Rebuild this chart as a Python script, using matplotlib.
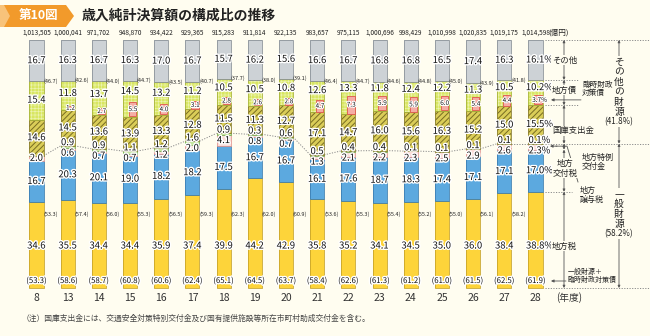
import numpy as np
import matplotlib as mpl
import matplotlib.pyplot as plt
from matplotlib import patheffects as pe
from matplotlib.patches import Polygon, Rectangle

plt.rcParams['font.family'] = ['Noto Sans CJK JP', 'DejaVu Sans']
plt.rcParams['hatch.linewidth'] = 0.7

# fiscal years (Heisei) and totals (100 million yen)
years = ['8', '13', '14', '15', '16', '17', '18', '19', '20', '21', '22',
         '23', '24', '25', '26', '27', '28']
totals = ['1,013,505', '1,000,041', '971,702', '948,870', '934,422', '929,365',
          '915,283', '911,814', '922,135', '983,657', '975,115', '1,000,696',
          '998,429', '1,010,998', '1,020,835', '1,019,175', '1,014,598']

# shares in %, bottom to top
local_tax = [34.6, 35.5, 34.4, 34.4, 35.9, 37.4, 39.9, 44.2, 42.9, 35.8, 35.2,
             34.1, 34.5, 35.0, 36.0, 38.4, 38.8]
alloc_tax = [16.7, 20.3, 20.1, 19.0, 18.2, 18.2, 17.5, 16.7, 16.7, 16.1, 17.6,
             18.7, 18.3, 17.4, 17.1, 17.1, 17.0]
transfer_tax = [2.0, 0.6, 0.7, 0.7, 1.2, 2.0, 4.1, 0.8, 0.7, 1.3, 2.1,
                2.2, 2.3, 2.5, 2.9, 2.6, 2.3]
special_grant = [0.0, 0.9, 0.9, 1.1, 1.2, 1.6, 0.9, 0.3, 0.6, 0.5, 0.4,
                 0.4, 0.1, 0.1, 0.1, 0.1, 0.1]
treasury = [14.6, 14.5, 13.6, 13.9, 13.3, 12.8, 11.5, 11.3, 12.7, 17.1, 14.7,
            16.0, 15.6, 16.3, 15.2, 15.0, 15.5]
local_bonds = [15.4, 11.8, 13.7, 14.5, 13.2, 11.2, 10.5, 10.5, 10.8, 12.6, 13.3,
               11.8, 12.4, 12.2, 11.3, 10.5, 10.2]
rinzai = [0.0, 1.2, 2.7, 5.5, 4.0, 3.1, 2.8, 2.6, 2.8, 4.7, 7.3,
          5.9, 5.9, 6.0, 5.4, 4.4, 3.7]
other = [16.7, 16.3, 16.7, 16.3, 17.0, 16.7, 15.7, 16.2, 15.6, 16.6, 16.7,
         16.8, 16.8, 16.5, 17.4, 16.3, 16.1]

# bracketed shares printed between bars (H8..H27)
other_share = [46.7, 42.6, 44.0, 44.7, 43.5, 40.7, 37.7, 38.0, 39.1, 46.4,
               44.7, 44.6, 44.8, 45.0, 43.9, 41.8]
general_share = [53.3, 57.4, 56.0, 55.3, 56.5, 59.3, 62.3, 62.0, 60.9, 53.6,
                 55.3, 55.4, 55.2, 55.0, 56.1, 58.2]
general_plus = [53.3, 58.6, 58.7, 60.8, 60.6, 62.4, 65.1, 64.5, 63.7, 58.4,
                62.6, 61.3, 61.2, 61.0, 61.5, 62.5, 61.9]

BG = '#FFFDF0'
INK = '#222222'
LINE = '#555555'
STEP = 31.1875   # pixels between bar centres
PX_PER = 2.48    # pixels per percent


def X(px):
    return (px - 36.5) / STEP


def Y(py):
    return (288 - py) / PX_PER


fig = plt.figure(figsize=(6.5, 3.36), dpi=100, facecolor=BG)
ax = fig.add_axes([0, 0, 1, 1])
ax.set_xlim(X(0), X(650))
ax.set_ylim(Y(336), Y(0))
ax.set_axis_off()
ax.set_facecolor(BG)

n = len(years)
x = np.arange(n)
w = 0.45

# values, face, edge, hatch, hatch colour, hatch width
layers = [
    (local_tax, '#FDD43A', '#C9A52A', None, None, 0),
    (alloc_tax, '#5CA9DF', '#3C7FB3', None, None, 0),
    (transfer_tax, '#FBDDD9', '#E39A94', None, None, 0),
    (special_grant, '#C5E6A2', '#76B459', None, None, 0),
    (treasury, '#DACD58', '#8C8032', '//////', '#776C22', 0.7),
    (local_bonds, '#D8E662', '#A8B43A', '+++++', '#EDF3B0', 0.45),
    (other, '#CDD2D6', '#8C939A', None, None, 0),
]
bottoms = []
bottom = np.zeros(n)
for vals, fc, ec, hatch, hc, hlw in layers:
    vals = np.array(vals)
    ax.bar(x, vals, w, bottom=bottom, color=fc, edgecolor='none', zorder=2)
    if hatch:
        with mpl.rc_context({'hatch.linewidth': hlw}):
            ax.bar(x, vals, w, bottom=bottom, color='none', edgecolor=hc,
                   hatch=hatch, lw=0, zorder=3)
    ax.bar(x, vals, w, bottom=bottom, color='none', edgecolor=ec, lw=0.6, zorder=4)
    bottoms.append(bottom.copy())
    bottom = bottom + vals
bottoms.append(bottom.copy())

# 臨時財政対策債 boxes inside the 地方債 segment
for i in range(n):
    if rinzai[i] > 0:
        ax.add_patch(Rectangle((i - w / 2 + 0.42 * w, bottoms[5][i] + 0.3),
                               0.52 * w, rinzai[i], facecolor='#F5ADA5',
                               edgecolor='#E0554E', lw=0.6, zorder=5))

# dotted line at the top of 一般財源
gen_top = bottoms[4]
for i in range(n - 1):
    ax.plot([i + w / 2, i + 1 - w / 2], [gen_top[i], gen_top[i + 1]],
            ls=(0, (1.2, 1.5)), color='#8A8A8A', lw=0.7, zorder=1)

halo = [pe.withStroke(linewidth=2, foreground='white')]


def lab(i, yy, v, size=6.8, dx=0.0):
    s = f'{v:.1f}'
    if i == n - 1:
        s += '%'
        dx += 0.13
    ax.text(i + dx, yy, s, ha='center', va='center', fontsize=size, color='#111',
            path_effects=halo, zorder=7)


for i in range(n):
    lab(i, Y(246), local_tax[i])
    lab(i, bottoms[1][i] + alloc_tax[i] / 2, alloc_tax[i])
    if special_grant[i] > 0:
        lab(i, gen_top[i] + 1.3, special_grant[i])
        ty = min(bottoms[2][i] + transfer_tax[i] / 2, gen_top[i] - 2.9)
    else:
        ty = bottoms[2][i] + transfer_tax[i] / 2
    lab(i, ty, transfer_tax[i])
    lab(i, bottoms[4][i] + treasury[i] / 2, treasury[i])
    box_top = bottoms[5][i] + 0.3 + rinzai[i]
    lab(i, (bottoms[6][i] + box_top) / 2, local_bonds[i])
    if rinzai[i] > 0:
        s = f'{rinzai[i]:.1f}' + ('%' if i == n - 1 else '')
        ax.text(i + 0.2 * w + (0.04 if i == n - 1 else 0), bottoms[5][i] + 0.3 + rinzai[i] / 2, s,
                ha='center', va='center', fontsize=4.6, color='#111',
                path_effects=[pe.withStroke(linewidth=1.5, foreground='white')],
                zorder=7)
    lab(i, bottoms[6][i] + other[i] / 2, other[i])
    ax.text(i, Y(281), f'({general_plus[i]:.1f})', ha='center', va='center',
            fontsize=5.6, color='#111', path_effects=halo, zorder=7)
    ax.text(i, Y(33), totals[i], ha='center', va='center', fontsize=4.7,
            color=INK, zorder=7)
    ax.text(i, Y(298), years[i], ha='center', va='center', fontsize=7.5,
            color='#333')

for i in range(n - 1):
    ax.text(i + 0.45, bottoms[6][i], f'({other_share[i]:.1f})', ha='center',
            va='center', fontsize=4.0, color=INK, zorder=7)
    ax.text(i + 0.45, Y(214), f'({general_share[i]:.1f})', ha='center',
            va='center', fontsize=4.0, color=INK, zorder=7)

ax.text(X(548), Y(33), '(億円)', ha='left', va='center', fontsize=5.5, color=INK)
ax.text(X(556), Y(298), '(年度)', ha='left', va='center', fontsize=7, color='#333')

# title
badge = Polygon([(X(0), Y(5)), (X(66), Y(5)), (X(74), Y(16)), (X(66), Y(27)),
                 (X(0), Y(27))], closed=True, facecolor='#F29A2B',
                edgecolor='none')
ax.add_patch(badge)
ax.add_patch(Polygon([(X(0), Y(5)), (X(4), Y(5)), (X(10), Y(16)), (X(4), Y(27)),
                      (X(0), Y(27))], closed=True, facecolor='#F8C37A',
                     edgecolor='none'))
ax.text(X(39), Y(16), '第10図', ha='center', va='center', fontsize=9,
        color='white', fontweight='bold')
ax.text(X(82), Y(16), '歳入純計決算額の構成比の推移', ha='left', va='center',
        fontsize=10, color=INK, fontweight='bold')

# note
ax.text(X(22), Y(319), '（注）国庫支出金には、交通安全対策特別交付金及び国有提供施設等所在市町村助成交付金を含む。',
        ha='left', va='center', fontsize=5.6, color='#444')

# right-hand legend
last = n - 1
y_top = bottoms[7][last]
y_other = bottoms[6][last]
y_bonds = bottoms[5][last]
y_gen = gen_top[last]
y_alloc = bottoms[2][last]
y_tax = bottoms[1][last]
dots = dict(ls=(0, (1.2, 1.5)), color='#8A8A8A', lw=0.7)
for yy, x1 in [(y_top, 650), (y_other, 578), (y_bonds, 578), (y_gen, 650),
               (y_tax, 572), (0, 650)]:
    ax.plot([X(545), X(x1)], [yy, yy], **dots)

box = dict(facecolor=BG, edgecolor='none', pad=0.4)


def varrow(xx, y0, y1):
    ax.annotate('', xy=(xx, y1), xytext=(xx, y0),
                arrowprops=dict(arrowstyle='<|-|>', color=LINE, lw=0.6,
                                mutation_scale=3.5, shrinkA=0, shrinkB=0))


def note(xx, yy, s, size=6, ha='left'):
    ax.text(xx, yy, s, ha=ha, va='center', fontsize=size, color=INK,
            bbox=box, linespacing=1.1, zorder=8)


xa = X(564)
varrow(xa, y_top, y_other)
varrow(xa, y_other, y_bonds)
varrow(xa, y_bonds, y_gen)
varrow(xa, y_alloc, y_tax)
varrow(xa, y_tax, 0)
varrow(xa, y_gen, y_alloc)
note(X(552), (y_top + y_other) / 2, 'その他')
note(X(552), (y_other + y_bonds) / 2 + 1.0, '地方債')
note(X(582), (y_other + y_bonds) / 2 + 1.5, '臨時財政\n対策債', size=5.5)
ax.annotate('', xy=(X(551), bottoms[5][last] + 0.3 + rinzai[last] / 2),
            xytext=(X(581), bottoms[5][last] + 0.3 + rinzai[last] / 2),
            arrowprops=dict(arrowstyle='-|>', color=LINE, lw=0.6,
                            mutation_scale=4, shrinkA=0, shrinkB=0))
note(X(552), (y_bonds + y_gen) / 2 - 2.5, '国庫支出金')
note(X(565), (y_alloc + y_tax) / 2 + 1.0, '地方\n交付税', ha='center')
note(X(552), Y(246), '地方税')
note(X(582), Y(162), '地方特例\n交付金', size=5.8)
note(X(580), Y(195), '地方\n譲与税', size=5.8)
ax.plot([X(578), X(567), X(556)], [Y(182), y_gen - 1.0, y_gen - 1.0],
        color=LINE, lw=0.6)
ax.annotate('', xy=(X(550), y_gen - 1.0), xytext=(X(557), y_gen - 1.0),
            arrowprops=dict(arrowstyle='-|>', color=LINE, lw=0.6,
                            mutation_scale=4, shrinkA=0, shrinkB=0))
note(X(568), Y(276), '一般財源＋\n臨時財政対策債', size=5)
ax.annotate('', xy=(X(551), Y(281)), xytext=(X(566), Y(281)),
            arrowprops=dict(arrowstyle='-|>', color=LINE, lw=0.6,
                            mutation_scale=4, shrinkA=0, shrinkB=0))

# big brackets: その他の財源 / 一般財源
xb = X(619)
other_total = other[last] + local_bonds[last] + treasury[last]
general_total = 100 - other_total
varrow(xb, y_top, y_gen)
varrow(xb, y_gen, 0)
step = 10 / PX_PER


def vtext(center, chars, pct):
    rows = list(chars) + [pct]
    y0 = center + step * (len(rows) - 1) / 2
    for k, ch in enumerate(rows):
        ax.text(xb, y0 - k * step, ch, ha='center', va='center',
                fontsize=7 if k < len(chars) else 5.8, color=INK,
                bbox=dict(facecolor=BG, edgecolor='none', pad=0.6), zorder=8)


vtext((y_top + y_gen) / 2, 'その他の財源', f'({other_total:.1f}%)')
vtext(y_gen / 2 + 0.8, '一般財源', f'({general_total:.1f}%)')

fig.savefig('out.png', dpi=100, facecolor=BG)
